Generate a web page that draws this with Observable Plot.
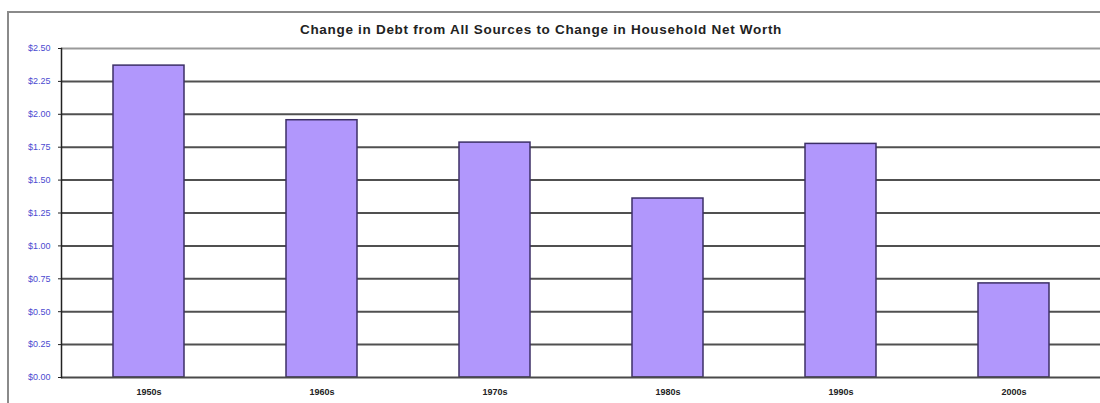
<!DOCTYPE html>
<html>
<head>
<meta charset="utf-8">
<script src="https://cdn.jsdelivr.net/npm/d3@7"></script>
<script src="https://cdn.jsdelivr.net/npm/@observablehq/plot@0.6"></script>
<style>
  html, body { margin: 0; padding: 0; background: #fff; }
  #wrap { position: relative; width: 1100px; height: 403px; overflow: hidden; }
  #frame { position: absolute; left: 7px; top: 11px; width: 1200px; height: 500px;
           border-left: 2px solid #8a8a8a; border-top: 2px solid #8a8a8a; }
  #title { position: absolute; top: 22px; left: 0; width: 1082px; text-align: center;
           font: bold 13.5px "Liberation Sans", Arial, sans-serif; letter-spacing: 0.7px; color: #222; }
  #chart { position: absolute; left: 0; top: 0; }
</style>
</head>
<body>
<div id="wrap">
  <div id="frame"></div>
  <div id="title">Change in Debt from All Sources to Change in Household Net Worth</div>
  <div id="chart"></div>
</div>
<script>
const decades = ["1950s", "1960s", "1970s", "1980s", "1990s", "2000s"];
const ratios = [2.37, 1.955, 1.785, 1.36, 1.775, 0.715];
const yTicks = [0, 0.25, 0.5, 0.75, 1.0, 1.25, 1.5, 1.75, 2.0, 2.25, 2.5];

const data = decades.map((d, i) => ({decade: d, value: ratios[i]}));

const chart = Plot.plot({
  width: 1100,
  height: 403,
  marginLeft: 61,
  marginRight: 0,
  marginTop: 48,
  marginBottom: 26,
  style: {fontFamily: "'Liberation Sans', Arial, sans-serif", background: "transparent"},
  x: {domain: decades, paddingInner: 0.59, paddingOuter: 0.295},
  y: {domain: [0, 2.5]},
  marks: [
    Plot.ruleY(yTicks.slice(1, -1), {stroke: "#505050", strokeWidth: 2}),
    Plot.ruleY([2.5], {stroke: "#9a9a9a", strokeWidth: 2}),
    Plot.barY(data, {x: "decade", y: "value", fill: "#b197fc", stroke: "#3c2f66", strokeWidth: 1.5}),
    Plot.ruleY([0], {stroke: "#4a4a4a", strokeWidth: 2}),
    Plot.frame({anchor: "left", stroke: "#222", strokeWidth: 1.5}),
    Plot.axisY({ticks: yTicks, tickFormat: d => "$" + d.toFixed(2), tickSize: 3, tickPadding: 8,
                fontSize: 9, fill: "#4b4bd0", stroke: "#222", label: null,
                letterSpacing: "0.6px"}),
    Plot.axisX({tickSize: 0, tickPadding: 11, fontSize: 9, fontWeight: "bold", fill: "#222", label: null,
                letterSpacing: "0.6px"})
  ]
});
document.getElementById("chart").appendChild(chart);
</script>
</body>
</html>
